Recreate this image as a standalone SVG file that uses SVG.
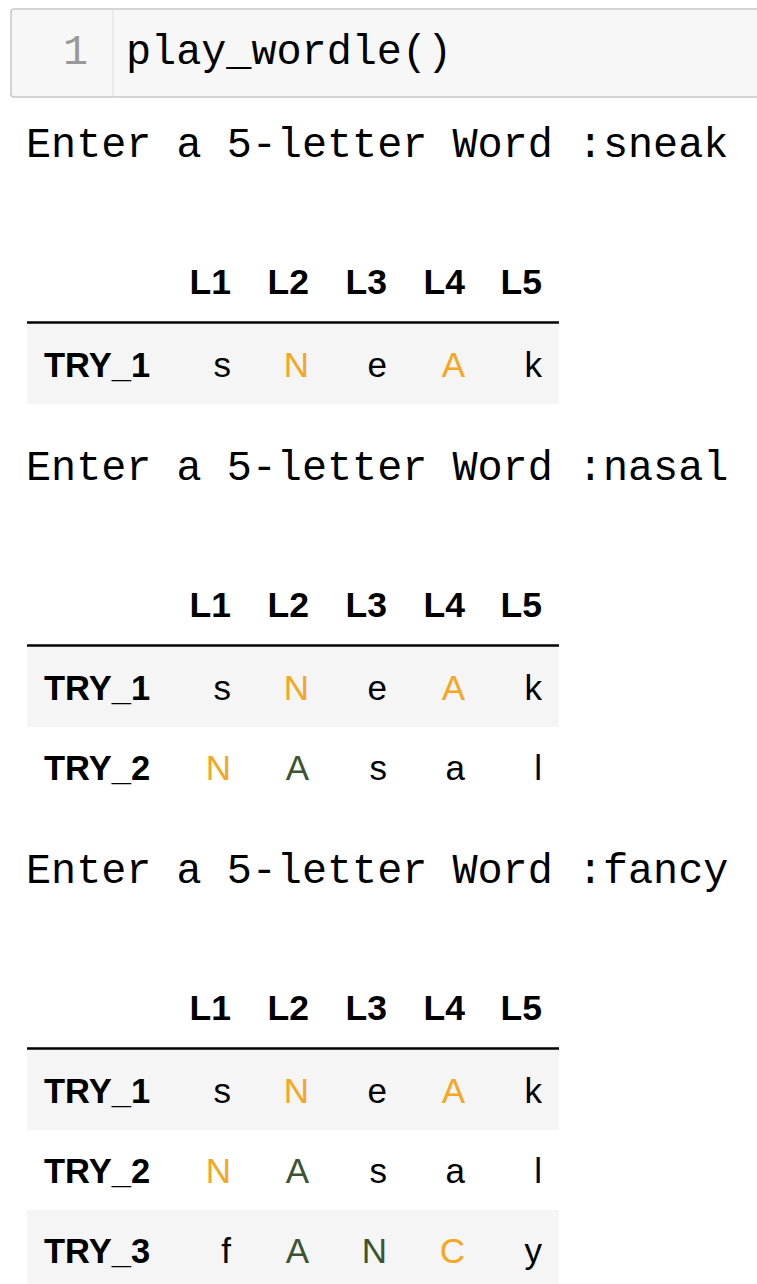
<svg xmlns="http://www.w3.org/2000/svg" width="757" height="1284" viewBox="0 0 757 1284">
<style>
.mono{font-family:"Liberation Mono","DejaVu Sans Mono",monospace;font-size:41.8px;fill:#000}
.ln{font-family:"Liberation Mono","DejaVu Sans Mono",monospace;font-size:41.8px;fill:#999}
.hd{font-family:"Liberation Sans",Arial,sans-serif;font-size:35.5px;font-weight:bold;fill:#000;text-anchor:end}
.idx{font-family:"Liberation Sans",Arial,sans-serif;font-size:34.5px;font-weight:bold;fill:#000}
.c{font-family:"Liberation Sans",Arial,sans-serif;font-size:35px;fill:#000;text-anchor:end}
.o{fill:#f5a623}
.g{fill:#3b5431}
.rule{stroke:#000;stroke-width:2.5}
.stripe{fill:#f5f5f5}
</style>
<rect width="757" height="1284" fill="#fff"/>
<g id="input-cell">
<rect x="11" y="9" width="760" height="88" rx="3" fill="#f7f7f7" stroke="#c8c8c8" stroke-width="1.5"/>
<line x1="113" y1="9.5" x2="113" y2="96.5" stroke="#dddddd" stroke-width="1"/>
<text class="ln" x="75.5" y="64" text-anchor="middle">1</text>
<text class="mono" x="126" y="64">play_wordle()</text>
</g>
<g id="prompt-1"><text class="mono" x="26" y="157">Enter a 5-letter Word :sneak</text></g>
<g id="table-1">
<text class="hd" x="231" y="294">L1</text><text class="hd" x="309" y="294">L2</text><text class="hd" x="387" y="294">L3</text><text class="hd" x="465" y="294">L4</text><text class="hd" x="542" y="294">L5</text>
<line class="rule" x1="27" y1="322.5" x2="559" y2="322.5"/>
<rect class="stripe" x="27" y="324" width="532" height="80"/>
<text class="idx" x="44" y="377">TRY_1</text>
<text class="c" x="231" y="377">s</text><text class="c o" x="309" y="377">N</text><text class="c" x="387" y="377">e</text><text class="c o" x="465" y="377">A</text><text class="c" x="542" y="377">k</text>
</g>
<g id="prompt-2"><text class="mono" x="26" y="480">Enter a 5-letter Word :nasal</text></g>
<g id="table-2">
<text class="hd" x="231" y="617">L1</text><text class="hd" x="309" y="617">L2</text><text class="hd" x="387" y="617">L3</text><text class="hd" x="465" y="617">L4</text><text class="hd" x="542" y="617">L5</text>
<line class="rule" x1="27" y1="645.5" x2="559" y2="645.5"/>
<rect class="stripe" x="27" y="647" width="532" height="80"/>
<text class="idx" x="44" y="700">TRY_1</text>
<text class="c" x="231" y="700">s</text><text class="c o" x="309" y="700">N</text><text class="c" x="387" y="700">e</text><text class="c o" x="465" y="700">A</text><text class="c" x="542" y="700">k</text>
<text class="idx" x="44" y="780">TRY_2</text>
<text class="c o" x="231" y="780">N</text><text class="c g" x="309" y="780">A</text><text class="c" x="387" y="780">s</text><text class="c" x="465" y="780">a</text><text class="c" x="542" y="780">l</text>
</g>
<g id="prompt-3"><text class="mono" x="26" y="883">Enter a 5-letter Word :fancy</text></g>
<g id="table-3">
<text class="hd" x="231" y="1020">L1</text><text class="hd" x="309" y="1020">L2</text><text class="hd" x="387" y="1020">L3</text><text class="hd" x="465" y="1020">L4</text><text class="hd" x="542" y="1020">L5</text>
<line class="rule" x1="27" y1="1048.5" x2="559" y2="1048.5"/>
<rect class="stripe" x="27" y="1050" width="532" height="80"/>
<rect class="stripe" x="27" y="1210" width="532" height="80"/>
<text class="idx" x="44" y="1103">TRY_1</text>
<text class="c" x="231" y="1103">s</text><text class="c o" x="309" y="1103">N</text><text class="c" x="387" y="1103">e</text><text class="c o" x="465" y="1103">A</text><text class="c" x="542" y="1103">k</text>
<text class="idx" x="44" y="1183">TRY_2</text>
<text class="c o" x="231" y="1183">N</text><text class="c g" x="309" y="1183">A</text><text class="c" x="387" y="1183">s</text><text class="c" x="465" y="1183">a</text><text class="c" x="542" y="1183">l</text>
<text class="idx" x="44" y="1263">TRY_3</text>
<text class="c" x="231" y="1263">f</text><text class="c g" x="309" y="1263">A</text><text class="c g" x="387" y="1263">N</text><text class="c o" x="465" y="1263">C</text><text class="c" x="542" y="1263">y</text>
</g>
</svg>
